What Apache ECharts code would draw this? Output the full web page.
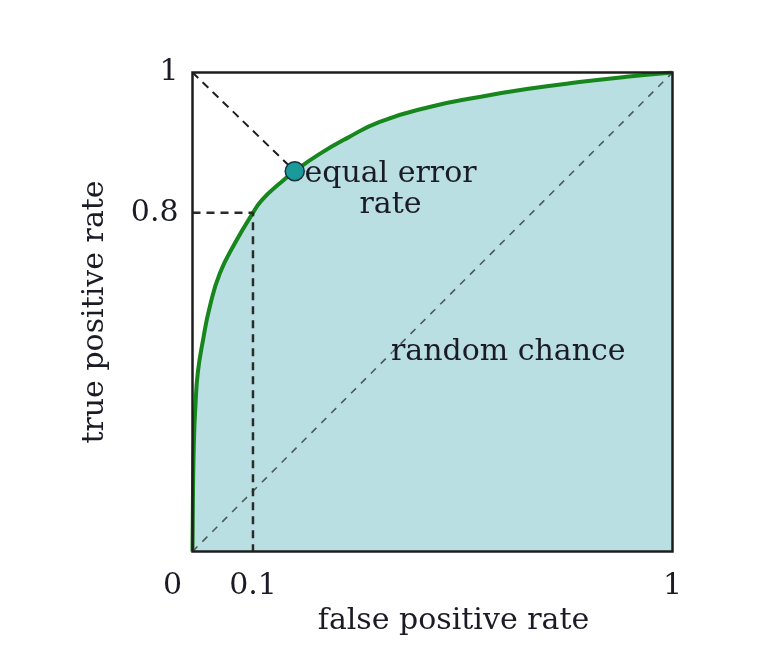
<!DOCTYPE html>
<html>
<head>
<meta charset="utf-8">
<script src="https://cdn.jsdelivr.net/npm/echarts@6/dist/echarts.min.js"></script>
<style>
  html,body{margin:0;padding:0;background:#fff;}
  #main{width:769px;height:649px;}
</style>
</head>
<body>
<div id="main"></div>
<script>
// ROC curve
var fpr = [0, 0.001, 0.003, 0.006, 0.011, 0.022, 0.036, 0.057, 0.088, 0.126, 0.145, 0.18, 0.213, 0.265, 0.322, 0.39, 0.494, 0.598, 0.7, 0.806, 0.904, 1];
var tpr = [0, 0.12, 0.233, 0.302, 0.373, 0.442, 0.511, 0.581, 0.643, 0.707, 0.734, 0.767, 0.794, 0.83, 0.863, 0.897, 0.928, 0.949, 0.966, 0.98, 0.991, 1];
// equal error rate point
var eerPoint = [0.213, 0.794];
// operating point marked with dashed guides
var opPoint = [0.126, 0.707];
// where the "random chance" text sits on the diagonal
var chancePoint = [0.4165, 0.4165];
// tick positions and their labels
var xTickValues = [0, 0.126, 1];
var xTickLabels = ['0', '0.1', '1'];
var yTickValues = [0.707, 1];
var yTickLabels = ['0.8', '1'];

var font = 'DejaVu Serif';
var ink = '#1b1b26';

var myChart = echarts.init(document.getElementById('main'));
var curve = fpr.map(function(x, i){ return [x, tpr[i]]; });

var option = {
  animation: false,
  backgroundColor: '#fff',
  grid: {
    left: 192.5, right: 96.5, top: 72.5, bottom: 97.5,
    show: true, backgroundColor: 'transparent',
    borderColor: '#1e1e1e', borderWidth: 2.5, z: 10
  },
  xAxis: {
    type: 'value', min: 0, max: 1,
    splitLine: {show: false}, axisLine: {show: false}, axisTick: {show: false},
    axisLabel: {
      customValues: xTickValues,
      margin: 20,
      fontFamily: font, fontSize: 30, color: ink,
      formatter: function(v){
        var i = xTickValues.indexOf(v);
        var t = i < 0 ? '' : xTickLabels[i];
        return v === 0 ? '{z|' + t + '}' : t;
      },
      rich: {z: {fontFamily: font, fontSize: 30, color: ink, padding: [0, 40, 0, 0]}}
    },
    name: 'false positive rate', nameLocation: 'middle', nameGap: 52,
    nameTextStyle: {fontFamily: font, fontSize: 30, color: ink, padding: [0, 0, 0, 42]}
  },
  yAxis: {
    type: 'value', min: 0, max: 1,
    splitLine: {show: false}, axisLine: {show: false}, axisTick: {show: false},
    axisLabel: {
      customValues: yTickValues,
      margin: 14,
      fontFamily: font, fontSize: 30, color: ink,
      formatter: function(v){
        var i = yTickValues.indexOf(v);
        return i < 0 ? '' : yTickLabels[i];
      }
    },
    name: 'true positive rate', nameLocation: 'middle', nameGap: 82,
    nameTextStyle: {fontFamily: font, fontSize: 30, color: ink}
  },
  series: [
    {
      // area under curve + ROC curve
      type: 'line', data: curve, smooth: 0.5, symbol: 'none',
      lineStyle: {color: '#17861c', width: 4},
      areaStyle: {color: '#badfe3', opacity: 1},
      z: 2
    },
    {
      // random chance diagonal
      type: 'line', data: [[0, 0], [1, 1]], symbol: 'none',
      lineStyle: {color: '#4b5a5c', width: 1.6, type: [7, 7]},
      z: 3
    },
    {
      // dashed guide to the EER point
      type: 'line', data: [[0, 1], eerPoint], symbol: 'none',
      lineStyle: {color: '#1e1e1e', width: 2, type: [8, 6]},
      z: 3
    },
    {
      // dashed guides to operating point
      type: 'line', data: [[0, opPoint[1]], opPoint, [opPoint[0], 0]], symbol: 'none',
      lineStyle: {color: '#2a2a2a', width: 2.5, type: [8, 6]},
      z: 3
    },
    {
      type: 'scatter', data: [eerPoint], symbol: 'circle', symbolSize: 19,
      itemStyle: {color: '#1b9a9a', borderColor: '#16323a', borderWidth: 1.5, opacity: 1},
      label: {
        show: true, position: [106, 29], align: 'center', verticalAlign: 'middle',
        formatter: 'equal error\nrate', lineHeight: 31,
        fontFamily: font, fontSize: 30, color: ink
      },
      z: 5
    },
    {
      type: 'scatter', data: [chancePoint], symbolSize: 1,
      itemStyle: {color: '#badfe3', opacity: 1},
      label: {
        show: true, position: 'right', distance: -2,
        formatter: 'random chance', opacity: 1,
        fontFamily: font, fontSize: 30, color: ink
      },
      z: 5
    }
  ]
};
myChart.setOption(option);
</script>
</body>
</html>
